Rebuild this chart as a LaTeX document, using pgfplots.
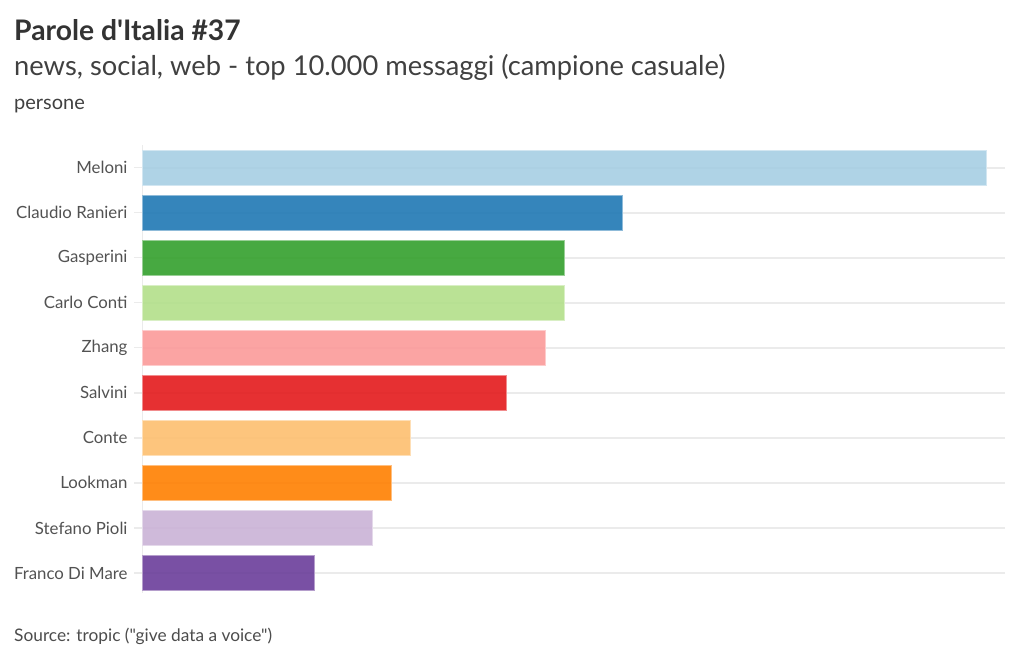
\documentclass[border=0pt]{standalone}
\usepackage{pgfplots}
\pgfplotsset{compat=1.18}
\usepackage{fontspec}
\setmainfont{Lato}[Ligatures=TeXOff]
\definecolor{c1}{HTML}{A6CEE3}
\definecolor{c2}{HTML}{1F78B4}
\definecolor{c3}{HTML}{33A02C}
\definecolor{c4}{HTML}{B2DF8A}
\definecolor{c5}{HTML}{FB9A99}
\definecolor{c6}{HTML}{E31A1C}
\definecolor{c7}{HTML}{FDBF6F}
\definecolor{c8}{HTML}{FF7F00}
\definecolor{c9}{HTML}{CAB2D6}
\definecolor{c10}{HTML}{6A3D9A}
\definecolor{gridc}{HTML}{EBEBEB}
\begin{document}
\begin{tikzpicture}
\useasboundingbox (0pt,0pt) rectangle (1024pt,660pt);
\node[anchor=base west,inner sep=0,text=black!80,font=\fontsize{28.3}{32}\selectfont\bfseries] at (14pt,619pt) {Parole d'Italia \#37};
\node[anchor=base west,inner sep=0,text=black!75,font=\fontsize{27.3}{31}\selectfont] at (14pt,584pt) {news, social, web - top 10.000 messaggi (campione casuale)};
\node[anchor=base west,inner sep=0,text=black!75,font=\fontsize{20}{24}\selectfont] at (14pt,550pt) {persone};
\node[anchor=base west,inner sep=0,text=black!70,font=\fontsize{17.3}{20}\selectfont] at (14pt,18pt) {Source: tropic ("give data a voice")};
\begin{axis}[
  at={(142pt,64.5pt)}, anchor=south west,
  scale only axis, width=863pt, height=450.5pt,
  xbar, bar shift=0pt, bar width=35pt,
  xmin=0, xmax=44.95,
  ymin=-0.5, ymax=9.5, y dir=reverse,
  ytick={0,...,9},
  yticklabels={Meloni,Claudio Ranieri,Gasperini,Carlo Conti,Zhang,Salvini,Conte,Lookman,Stefano Pioli,Franco Di Mare},
  yticklabel style={font=\fontsize{16.8}{19}\selectfont, text=black!68, xshift=-3pt},
  axis x line=none,
  axis y line*=left,
  y axis line style={draw=gridc, line width=1pt, -, shorten >=3pt},
  ytick style={draw=gridc, line width=1.5pt},
  tick align=outside, major tick length=8pt,
  ymajorgrids, grid style={draw=gridc, line width=2pt},
  clip=false,
]
\addplot[fill=c1, fill opacity=0.9, draw=c1!50!white, line width=0.6pt] coordinates {(44,0)};
\addplot[fill=c2, fill opacity=0.9, draw=c2!50!white, line width=0.6pt] coordinates {(25,1)};
\addplot[fill=c3, fill opacity=0.9, draw=c3!50!white, line width=0.6pt] coordinates {(22,2)};
\addplot[fill=c4, fill opacity=0.9, draw=c4!50!white, line width=0.6pt] coordinates {(22,3)};
\addplot[fill=c5, fill opacity=0.9, draw=c5!50!white, line width=0.6pt] coordinates {(21,4)};
\addplot[fill=c6, fill opacity=0.9, draw=c6!50!white, line width=0.6pt] coordinates {(19,5)};
\addplot[fill=c7, fill opacity=0.9, draw=c7!50!white, line width=0.6pt] coordinates {(14,6)};
\addplot[fill=c8, fill opacity=0.9, draw=c8!50!white, line width=0.6pt] coordinates {(13,7)};
\addplot[fill=c9, fill opacity=0.9, draw=c9!50!white, line width=0.6pt] coordinates {(12,8)};
\addplot[fill=c10, fill opacity=0.9, draw=c10!50!white, line width=0.6pt] coordinates {(9,9)};
\end{axis}
\end{tikzpicture}
\end{document}
